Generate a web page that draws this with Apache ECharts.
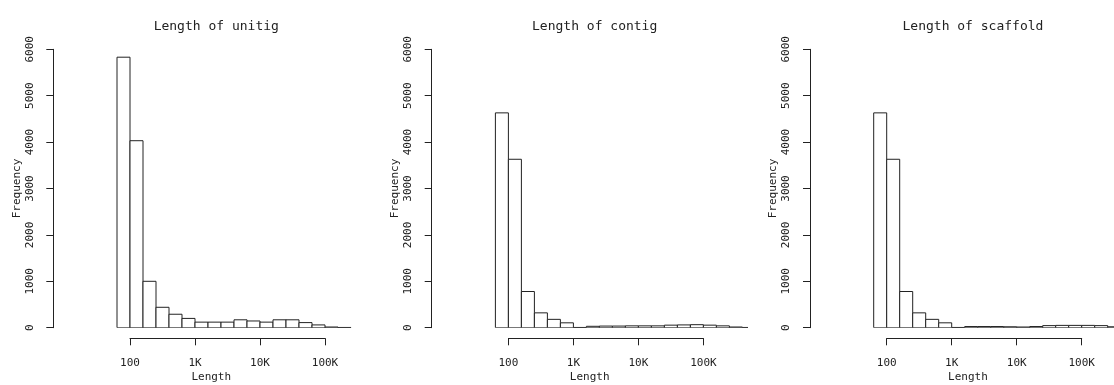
<!DOCTYPE html>
<html>
<head>
<meta charset="utf-8">
<script src="https://cdn.jsdelivr.net/npm/echarts@6/dist/echarts.min.js"></script>
<style>
  html, body { margin: 0; padding: 0; background: #fff; }
  #chart { width: 1114px; height: 385px; }
</style>
</head>
<body>
<div id="chart"></div>
<script>
// bin edges on log10(length), 0.2 decade wide
const breaks = [1.8, 2.0, 2.2, 2.4, 2.6, 2.8, 3.0, 3.2, 3.4, 3.6, 3.8, 4.0, 4.2, 4.4, 4.6, 4.8, 5.0, 5.2, 5.4, 5.6, 5.8];
const unitigCounts = [5830, 4030, 1000, 440, 290, 200, 120, 120, 120, 170, 145, 120, 170, 170, 110, 60, 15, 5];
const contigCounts = [4630, 3630, 780, 320, 180, 105, 5, 30, 35, 35, 40, 40, 40, 55, 60, 65, 55, 40, 15, 5];
const scaffoldCounts = [4630, 3630, 780, 320, 180, 105, 5, 25, 25, 25, 20, 15, 25, 45, 50, 50, 50, 45, 20, 5];
const titles = ['Length of unitig', 'Length of contig', 'Length of scaffold'];
const tickValues = [2, 3, 4, 5];
const tickLabels = ['100', '1K', '10K', '100K'];

const panels = [unitigCounts, contigCounts, scaffoldCounts];
const axisLeft = [53.3, 431.7, 810];
const PX_DEC = 65;               // pixels per decade
const XMIN = 0.82, XMAX = 5.68;  // R's xlim with 4% padding
const TOP = 49.3, H = 278.4;     // 0..6000 span
const font = 'DejaVu Sans Mono';
const ink = '#222';

const grid = [], xAxis = [], yAxis = [], series = [], title = [];

panels.forEach((counts, i) => {
  const L = axisLeft[i];
  const a = 2 * i, b = 2 * i + 1;

  // plot region
  grid.push({left: L, top: TOP, width: (XMAX - XMIN) * PX_DEC, height: H, outerBoundsMode: 'none'});
  // strip that only carries the x axis from 100 to 100K
  grid.push({left: L + (2 - XMIN) * PX_DEC, top: TOP + H + 9.6, width: 3 * PX_DEC, height: 1, outerBoundsMode: 'none'});

  xAxis.push({
    type: 'value', gridIndex: a, min: XMIN, max: XMAX,
    axisLine: {show: false}, axisTick: {show: false}, axisLabel: {show: false}, splitLine: {show: false},
    name: 'Length', nameLocation: 'middle', nameGap: 44,
    nameTextStyle: {fontFamily: font, fontSize: 11, color: ink}
  });
  xAxis.push({
    type: 'value', gridIndex: b, min: 2, max: 5, interval: 1,
    axisLine: {lineStyle: {color: ink, width: 1}},
    axisTick: {length: 7, lineStyle: {color: ink}},
    axisLabel: {
      margin: 19, fontFamily: font, fontSize: 11, color: ink,
      formatter: v => tickLabels[tickValues.indexOf(v)]
    },
    splitLine: {show: false}
  });

  yAxis.push({
    type: 'value', gridIndex: a, min: 0, max: 6000, interval: 1000,
    axisLine: {show: true, lineStyle: {color: ink, width: 1}},
    axisTick: {show: true, length: 7, lineStyle: {color: ink}},
    axisLabel: {rotate: 90, margin: 18, fontFamily: font, fontSize: 11, color: ink, formatter: v => String(v)},
    splitLine: {show: false},
    name: 'Frequency', nameLocation: 'middle', nameGap: 31,
    nameTextStyle: {fontFamily: font, fontSize: 11, color: ink}
  });
  yAxis.push({type: 'value', gridIndex: b, show: false});

  series.push({
    type: 'custom',
    xAxisIndex: a, yAxisIndex: a,
    clip: true,
    encode: {x: [0, 1], y: 2},
    data: counts.map((c, k) => [breaks[k], breaks[k + 1], c]),
    renderItem: (params, api) => {
      const p0 = api.coord([api.value(0), 0]);
      const p1 = api.coord([api.value(1), api.value(2)]);
      return {
        type: 'rect',
        shape: {x: p0[0], y: p1[1], width: p1[0] - p0[0], height: p0[1] - p1[1]},
        style: {fill: '#fff', stroke: ink, lineWidth: 1}
      };
    }
  });

  title.push({
    text: titles[i], left: L + (XMAX - XMIN) * PX_DEC / 2, top: 15, textAlign: 'center',
    textStyle: {fontFamily: font, fontSize: 13, fontWeight: 'normal', color: ink}
  });
});

const chart = echarts.init(document.getElementById('chart'));
chart.setOption({animation: false, title, grid, xAxis, yAxis, series});
</script>
</body>
</html>
